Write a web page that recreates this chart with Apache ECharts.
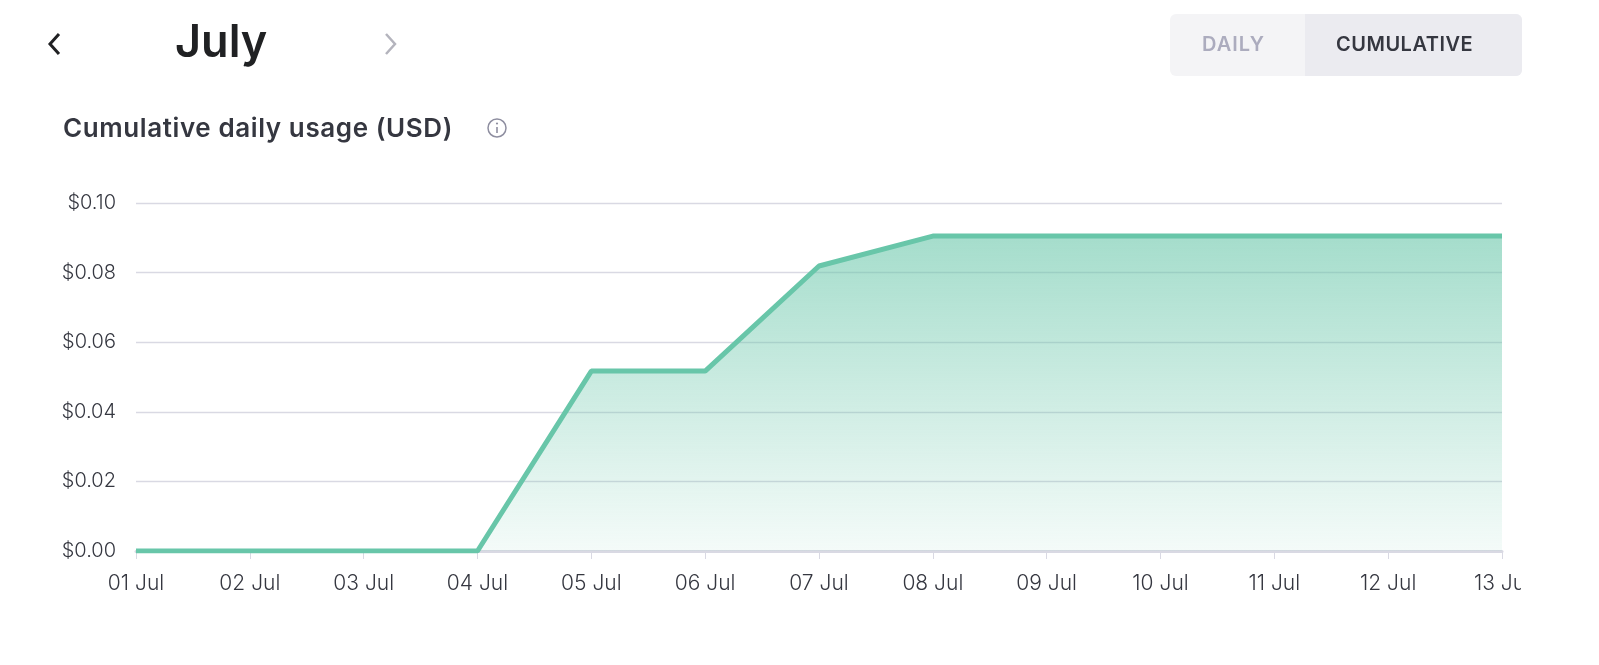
<!DOCTYPE html>
<html><head><meta charset="utf-8">
<script src="https://cdn.jsdelivr.net/npm/echarts@6/dist/echarts.min.js"></script>
<style>
body{margin:0;width:1599px;height:665px;background:#fff;font-family:Inter,"Noto Sans",sans-serif;position:relative;overflow:hidden}
#c{position:absolute;left:0;top:0;width:1599px;height:665px}
.t{position:absolute;color:#202123}
</style></head><body>
<div id="c"></div>
<div style="position:absolute;left:1521px;top:560px;width:78px;height:105px;background:#fff"></div>
<svg class="t" style="left:44px;top:30px" width="22" height="28"><path d="M15 4 L6 14 L15 24" stroke="#202123" stroke-width="3" fill="none"/></svg>
<div class="t" style="left:175px;top:13px;font-size:45px;font-weight:600">July</div>
<svg class="t" style="left:380px;top:30px" width="22" height="28"><path d="M6 4 L15 14 L6 24" stroke="#b4b4bd" stroke-width="2.5" fill="none"/></svg>
<div style="position:absolute;left:1170px;top:14px;width:352px;height:62px;background:#f4f4f6;border-radius:6px"></div>
<div style="position:absolute;left:1305px;top:14px;width:217px;height:62px;background:#ebebf0;border-radius:0 6px 6px 0"></div>
<div class="t" style="left:1202px;top:32px;font-size:20px;font-weight:600;color:#acacbe;letter-spacing:1px">DAILY</div>
<div class="t" style="left:1336px;top:32px;font-size:20px;font-weight:600;color:#353740;letter-spacing:0.5px">CUMULATIVE</div>
<div class="t" style="left:63px;top:112px;font-size:26px;font-weight:600;color:#353740;letter-spacing:0.6px">Cumulative daily usage (USD)</div>
<svg class="t" style="left:486px;top:117px" width="22" height="22"><circle cx="11" cy="11" r="9" stroke="#8e8ea0" stroke-width="1.5" fill="none"/><line x1="11" y1="10" x2="11" y2="16" stroke="#8e8ea0" stroke-width="1.6"/><circle cx="11" cy="6.5" r="1.1" fill="#8e8ea0"/></svg>
<script>
const categories=["01 Jul","02 Jul","03 Jul","04 Jul","05 Jul","06 Jul","07 Jul","08 Jul","09 Jul","10 Jul","11 Jul","12 Jul","13 Jul"];
const values=[0,0,0,0,0.0517,0.0517,0.0819,0.0905,0.0905,0.0905,0.0905,0.0905,0.0905];
const yTicks=[0,0.02,0.04,0.06,0.08,0.10];
const ch=echarts.init(document.getElementById('c'));
ch.setOption({
 animation:false,
 grid:{left:136,right:97,top:203,bottom:114,outerBoundsMode:'none',containLabel:false},
 xAxis:{type:'category',data:categories,boundaryGap:false,
  axisLine:{lineStyle:{color:'#d9d9e3',width:3}},
  axisTick:{show:true,alignWithLabel:true,length:8,lineStyle:{color:'#d9d9e3'}},
  axisLabel:{color:'#353740',fontSize:21,margin:22,fontFamily:'Inter',fontWeight:300}},
 yAxis:{type:'value',min:0,max:0.1,interval:0.02,
  axisLine:{show:false},axisTick:{show:false},
  splitLine:{lineStyle:{color:'#d9d9e3',width:1.3}},
  axisLabel:{color:'#353740',fontSize:20,margin:20,fontFamily:'Inter',fontWeight:300,formatter:v=>'$'+v.toFixed(2)}},
 series:[{type:'line',data:values,symbol:'none',
  lineStyle:{color:'#68c6a9',width:5},
  areaStyle:{color:new echarts.graphic.LinearGradient(0,0,0,1,[{offset:0,color:'rgba(104,198,169,0.85)'},{offset:1,color:'rgba(104,198,169,0.1)'}])}}]
});
</script></body></html>
